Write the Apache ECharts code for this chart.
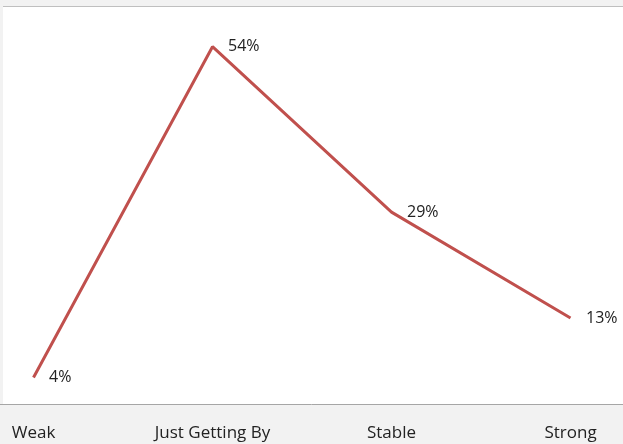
<!DOCTYPE html>
<html>
<head>
<meta charset="utf-8">
<script src="https://cdn.jsdelivr.net/npm/echarts@6/dist/echarts.min.js"></script>
<style>
  html, body { margin: 0; padding: 0; background: #f2f2f2; }
  #chart { width: 623px; height: 444px; }
</style>
</head>
<body>
<div id="chart"></div>
<script>
// Financial condition categories and share of respondents (%)
const categories = ['Weak', 'Just Getting By', 'Stable', 'Strong'];
const shares = [4, 54, 29, 13];

const chart = echarts.init(document.getElementById('chart'), null, { renderer: 'canvas' });
const font = 'Open Sans, Noto Sans, sans-serif';

chart.setOption({
  animation: false,
  backgroundColor: '#f2f2f2',
  graphic: [
    { type: 'rect', z: -10, silent: true,
      shape: { x: 3, y: 6, width: 640, height: 398 },
      style: { fill: '#ffffff' } },
    { type: 'line', z: -5, silent: true,
      shape: { x1: 3, y1: 6.5, x2: 623, y2: 6.5 },
      style: { stroke: '#bfbfbf', lineWidth: 1 } }
  ],
  grid: { left: -56, width: 716, top: 7, bottom: 40, containLabel: false, outerBoundsMode: 'none' },
  xAxis: {
    type: 'category',
    data: categories,
    boundaryGap: true,
    axisLine: { show: true, lineStyle: { color: '#a6a6a6', width: 1 } },
    axisTick: { show: false },
    axisLabel: { color: '#222', fontFamily: font, fontSize: 17, margin: 21, interval: 0 }
  },
  yAxis: {
    type: 'value',
    min: 0,
    max: 60,
    show: false,
    splitLine: { show: false }
  },
  series: [{
    type: 'line',
    data: shares,
    symbol: 'circle',
    symbolSize: 1,
    showSymbol: true,
    itemStyle: { color: 'rgba(0,0,0,0)', borderWidth: 0 },
    lineStyle: { color: '#c0504d', width: 3 },
    label: {
      show: true,
      position: 'right',
      distance: 15,
      formatter: p => p.value + '%',
      color: '#222',
      fontFamily: font,
      fontSize: 16
    }
  }]
});
</script>
</body>
</html>
